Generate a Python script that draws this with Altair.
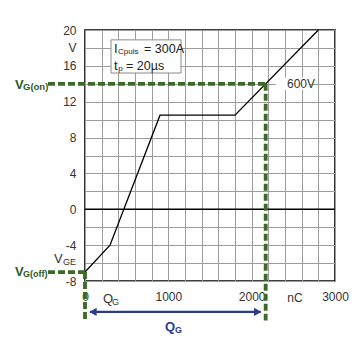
import altair as alt
import pandas as pd

# ---- data ----
q_nc = [0, 300, 900, 1800, 2800]          # gate charge, nC
v_ge = [-7, -4, 10.5, 10.5, 20]           # gate-emitter voltage, V
vg_on = 14
vg_off = -7
qg_total = 2168
x_ticks = list(range(0, 3001, 200))
y_ticks = list(range(-8, 21, 2))

FONT = "Liberation Sans"
GREEN = "#3b6a26"
GREEN_TXT = "#2e5a1c"
BLUE = "#2b3a8c"
GRID = "#9c9c9c"

XS = alt.Scale(domain=[0, 3000], nice=False, zero=False)
YS = alt.Scale(domain=[-8, 20], nice=False, zero=False)
XA = alt.Axis(values=x_ticks, labelExpr="datum.value % 1000 == 0 ? '' + datum.value : ''",
              grid=True, gridColor=GRID, gridWidth=1, domain=False, ticks=False,
              labelPadding=10, labelFontSize=12, labelColor="#333333", labelFont=FONT,
              title=None, labelFlush=False, labelOverlap=False)
YA = alt.Axis(values=y_ticks,
              labelExpr="datum.value == 18 ? 'V' : (datum.value % 4 == 0 ? '' + datum.value : '')",
              grid=True, gridColor=GRID, gridWidth=1, domain=False, ticks=False,
              labelPadding=9, labelFontSize=12, labelColor="#333333", labelFont=FONT,
              title=None, labelFlush=False, labelOverlap=False)


def X(f="q"):
    return alt.X(f"{f}:Q", scale=XS, axis=XA)


def Y(f="v"):
    return alt.Y(f"{f}:Q", scale=YS, axis=YA)


curve_df = pd.DataFrame({"q": q_nc, "v": v_ge})
base = alt.Chart(curve_df).mark_line(color="black", strokeWidth=1.3).encode(x=X(), y=Y())

zero = alt.Chart(pd.DataFrame({"q": [0], "q2": [3000], "v": [0]})).mark_rule(
    color="black", strokeWidth=1.6).encode(x=X(), x2="q2:Q", y=Y())

# white box for the test conditions
box = alt.Chart(pd.DataFrame({"q": [312], "q2": [1152], "v": [18.9], "v2": [15.2]})).mark_rect(
    fill="white", stroke="#8a8a8a", strokeWidth=1).encode(x=X(), x2="q2:Q", y=Y(), y2="v2:Q")

# white patch behind "600V"
patch = alt.Chart(pd.DataFrame({"q": [2290], "q2": [2700], "v": [13.3], "v2": [14.7]})).mark_rect(
    fill="white").encode(x=X(), x2="q2:Q", y=Y(), y2="v2:Q")

dash = dict(color=GREEN, strokeWidth=3.8, strokeDash=[7, 3])
h_on = alt.Chart(pd.DataFrame({"q": [-444], "q2": [qg_total], "v": [vg_on]})).mark_rule(**dash).encode(
    x=X(), x2="q2:Q", y=Y())
v_on = alt.Chart(pd.DataFrame({"q": [qg_total], "v": [vg_on], "v2": [-12.4]})).mark_rule(**dash).encode(
    x=X(), y=Y(), y2="v2:Q")
h_off = alt.Chart(pd.DataFrame({"q": [-444], "q2": [0], "v": [vg_off]})).mark_rule(**dash).encode(
    x=X(), x2="q2:Q", y=Y())
v_off = alt.Chart(pd.DataFrame({"q": [0], "v": [vg_off], "v2": [-12.4]})).mark_rule(**dash).encode(
    x=X(), y=Y(), y2="v2:Q")

# blue double arrow for Q_G
arrow = alt.Chart(pd.DataFrame({"q": [60], "q2": [2110], "v": [-11.45]})).mark_rule(
    color=BLUE, strokeWidth=2.2).encode(x=X(), x2="q2:Q", y=Y())
head_l = alt.Chart(pd.DataFrame({"q": [96], "v": [-11.45]})).mark_point(
    shape="triangle-left", size=70, filled=True, color=BLUE, opacity=1).encode(x=X(), y=Y())
head_r = alt.Chart(pd.DataFrame({"q": [2072], "v": [-11.45]})).mark_point(
    shape="triangle-right", size=70, filled=True, color=BLUE, opacity=1).encode(x=X(), y=Y())


def txt(q, v, s, size=12, color="#333333", weight="normal", align="left", dy=0):
    return alt.Chart(pd.DataFrame({"q": [q], "v": [v], "t": [s]})).mark_text(
        align=align, baseline="middle", fontSize=size, font=FONT, color=color,
        fontWeight=weight, dy=dy).encode(x=X(), y=Y(), text="t:N")


texts = [
    # V_G(on)
    txt(-840, vg_on, "V", 13, GREEN_TXT, "bold", dy=1),
    txt(-744, vg_on, "G(on)", 9.5, GREEN_TXT, "bold", dy=3),
    # V_G(off)
    txt(-840, vg_off, "V", 13, GREEN_TXT, "bold", dy=0),
    txt(-744, vg_off, "G(off)", 9, GREEN_TXT, "bold", dy=2),
    # V_GE
    txt(-372, -5.55, "V", 13),
    txt(-264, -5.55, "GE", 9, dy=3),
    # Q_G near axis
    txt(216, -10.0, "Q", 13),
    txt(324, -10.0, "G", 9, dy=3),
    # nC
    txt(2520, -9.9, "nC", 12, align="center"),
    # 600V
    txt(2424, vg_on, "600V", 12),
    # blue Q_G
    txt(960, -13.1, "Q", 13, BLUE, "bold"),
    txt(1080, -13.1, "G", 9, BLUE, "bold", dy=3),
    # test conditions box
    txt(348, 17.88, "I", 13, "#222222"),
    txt(396, 17.88, "Cpuls", 8, "#222222", dy=3),
    txt(708, 17.88, "= 300A", 12.5, "#222222"),
    txt(348, 15.98, "t", 13, "#222222"),
    txt(400, 15.98, "p", 8, "#222222", dy=3),
    txt(492, 15.98, "= 20µs", 12.5, "#222222"),
]

chart = alt.layer(
    base, zero, box, patch,
    h_on, v_on, h_off, v_off, arrow, head_l, head_r, *texts
).properties(
    width=250, height=251,
    autosize=alt.AutoSizeParams(type="none"),
    padding={"left": 85, "top": 30, "right": 29, "bottom": 72},
    background="white",
).configure_view(stroke="black", strokeWidth=1.6)

chart.save("out.html", embed_options={"renderer": "svg", "actions": False})
